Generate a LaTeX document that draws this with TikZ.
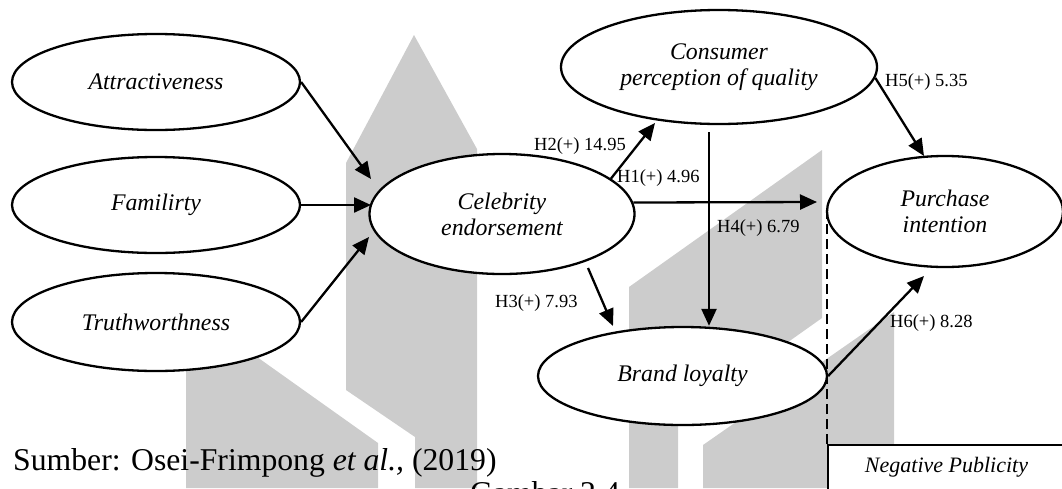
\documentclass[tikz,border=0pt]{standalone}
\usepackage{fontspec}
\setmainfont{Liberation Serif}
\usetikzlibrary{arrows.meta,shapes.geometric}
\definecolor{wm}{HTML}{CCCCCC}
\tikzset{
  ell/.style={draw, ellipse, line width=2.3pt, fill=white, inner sep=0pt,
    font=\fontsize{23.8}{26}\selectfont\itshape, align=center},
  conn/.style={line width=2.3pt, -{Triangle[length=17pt,width=15pt]}},
  hlab/.style={anchor=base west, inner sep=0pt, font=\fontsize{18.5}{20}\selectfont},
}
\begin{document}
\begin{tikzpicture}[x=1pt,y=-1pt]
\useasboundingbox (0,0) rectangle (1062,488);
% watermark
\fill[wm] (346,163) -- (414,35) -- (477,149) -- (477,488) -- (415,488) -- (415,437) -- (346,390) -- cycle;
\fill[wm] (186,352) -- (250,352) -- (378,443) -- (378,488) -- (186,488) -- cycle;
\fill[wm] (629,488) -- (629,287) -- (822,150) -- (822,318) -- (678,420) -- (678,488) -- cycle;
\fill[wm] (703,488) -- (703,445) -- (894,312) -- (894,488) -- cycle;

% box and dashed line
\node[draw, line width=2.3pt, fill=white, anchor=north west, minimum width=300pt, minimum height=100pt, inner sep=0pt] (negbox) at (827,444) {};
\node[anchor=base, inner sep=0pt, font=\fontsize{22}{24}\selectfont\itshape] (negtxt) at (946.5,472) {Negative Publicity};

% ellipses
\node[ell, minimum width=288pt, minimum height=96pt] (att) at (156,82) {Attractiveness};
\node[ell, minimum width=288pt, minimum height=96pt] (fam) at (156,205) {Familirty};
\node[ell, minimum width=288pt, minimum height=98pt] (tru) at (156,322) {Truthworthness};
\node[ell, minimum width=265pt, minimum height=120pt] (cel) at (502,214) {Celebrity\\endorsement};
\node[ell, minimum width=316pt, minimum height=114pt] (con) at (719,67) {Consumer\\perception of quality};
\node[ell, minimum width=289pt, minimum height=98pt] (bra) at (682.5,376) {Brand loyalty};

\draw[line width=2.3pt, dashed, dash pattern=on 10pt off 5pt] (negbox.north west) -- (827,211.5) coordinate (dtop);
\node[ell, minimum width=236pt, minimum height=111pt] (pur) at (945,211.5) {Purchase\\intention};

% coordinates for free ends
\coordinate (t1) at (371,179);
\coordinate (t2) at (371,205);
\coordinate (t3) at (369,237);
\coordinate (t4) at (655,123);
\coordinate (t5) at (817,202);
\coordinate (s6) at (709,132);
\coordinate (s7) at (588,268);
\coordinate (t7) at (613,326);
\coordinate (t8) at (924,156);
\coordinate (t9) at (924,276);

% connectors
\draw[conn] (att.east) -- (t1);
\draw[conn] (fam.east) -- (t2);
\draw[conn] (tru.east) -- (t3);
\draw[conn] (cel.18) -- (t4);
\draw[conn] (cel.5) -- (t5);
\draw[conn] (s6) -- (s6 |- bra.north);
\draw[conn] (s7) -- (t7);
\draw[conn] (con.-4) -- (t8);
\draw[conn] (bra.east) -- (t9);

% labels
\node[hlab] (l2) at (534,150) {H2(+) 14.95};
\node[hlab] (l1) at (617,182) {H1(+) 4.96};
\node[hlab] (l4) at (717,232) {H4(+) 6.79};
\node[hlab] (l5) at (885,86) {H5(+) 5.35};
\node[hlab] (l3) at (495,307) {H3(+) 7.93};
\node[hlab] (l6) at (890,327) {H6(+) 8.28};

% source and caption
\node[anchor=base west, inner sep=0pt, font=\fontsize{31.7}{34}\selectfont] (src) at (13,470) {Sumber: Osei-Frimpong \textit{et al.,} (2019)};
\node[anchor=base west, inner sep=0pt, font=\fontsize{31.7}{34}\selectfont] (cap) at (470,503) {Gambar 2.4};
\end{tikzpicture}
\end{document}
